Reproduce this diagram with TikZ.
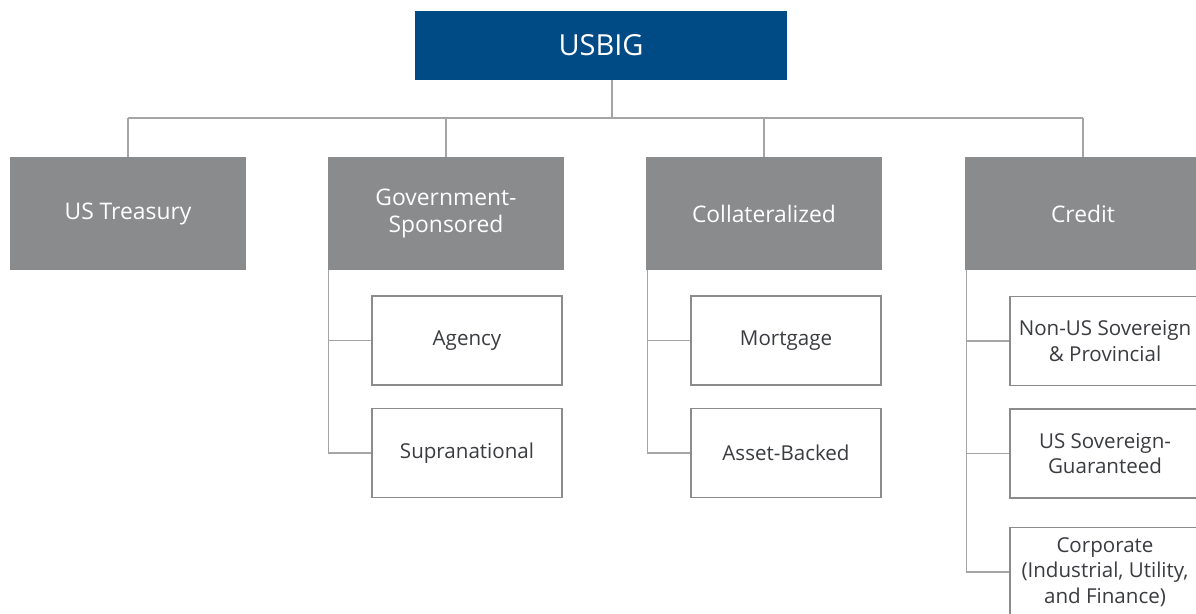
\documentclass[tikz,border=0pt]{standalone}
\usepackage{fontspec}
\setmainfont{Open Sans}
\usetikzlibrary{calc,positioning}
\definecolor{usblue}{RGB}{0,74,134}
\definecolor{boxgray}{RGB}{138,139,141}
\definecolor{linegray}{RGB}{165,165,165}
\definecolor{textgray}{RGB}{58,60,64}

\tikzset{
  topbox/.style={fill=usblue, text=white, inner sep=0pt, minimum width=7.44cm,
    minimum height=1.38cm, font=\fontsize{16.5}{20}\selectfont},
  catbox/.style={fill=boxgray, text=white, inner sep=0pt, minimum width=4.72cm,
    minimum height=2.26cm, align=center, font=\fontsize{13}{15.3}\selectfont},
  subbox/.style={draw=boxgray, line width=1.1pt, fill=white, text=textgray,
    inner sep=0pt, minimum width=3.80cm, minimum height=1.78cm, align=center,
    font=\fontsize{11.7}{14.6}\selectfont},
  link/.style={draw=linegray, line width=0.8pt}
}

\begin{document}
\begin{tikzpicture}[x=0.02cm, y=-0.02cm]
    \useasboundingbox (0,0) rectangle (1196,614);
    \clip (0,0) rectangle (1196,614);
    \node [topbox] (usbig) at (601,45.5) {USBIG};
    \node [catbox] (treas) at (128,213.5) {US Treasury};
    \node [catbox] (gov) at (446,213.5) {Government-\\Sponsored};
    \node [catbox] (coll) at (764,213.5) {Collateralized};
    \node [catbox] (credit) at (1083,213.5) {Credit};
    \node [subbox] (agency) at (467,340.5) {Agency};
    \node [subbox] (supra) at (467,453) {Supranational};
    \node [subbox] (mort) at (786,340.5) {Mortgage};
    \node [subbox] (abs) at (786,453) {Asset-Backed};
    \node [subbox] (nonus) at (1105,341) {Non-US Sovereign\\\& Provincial};
    \node [subbox] (ussov) at (1105,453.5) {US Sovereign-\\Guaranteed};
    \node [subbox] (corp) at (1105,572) {Corporate\\(Industrial, Utility,\\and Finance)};
    \coordinate (hub) at (612,118);
    % tree lines
    \draw [link] (usbig.south -| hub) -- (hub);
    \draw [link] (treas.north |- hub) -- (credit.north |- hub);
    \draw [link] (treas.north) -- (treas.north |- hub);
    \draw [link] (gov.north) -- (gov.north |- hub);
    \draw [link] (coll.north) -- (coll.north |- hub);
    \draw [link] (credit.north) -- (credit.north |- hub);
    \draw [link] ($(gov.south west)+(1,0)$) |- (agency.west);
    \draw [link] ($(gov.south west)+(1,0)$) |- (supra.west);
    \draw [link] ($(coll.south west)+(2,0)$) |- (mort.west);
    \draw [link] ($(coll.south west)+(2,0)$) |- (abs.west);
    \draw [link] ($(credit.south west)+(2,0)$) |- (nonus.west);
    \draw [link] ($(credit.south west)+(2,0)$) |- (ussov.west);
    \draw [link] ($(credit.south west)+(2,0)$) |- (corp.west);
\end{tikzpicture}
\end{document}
